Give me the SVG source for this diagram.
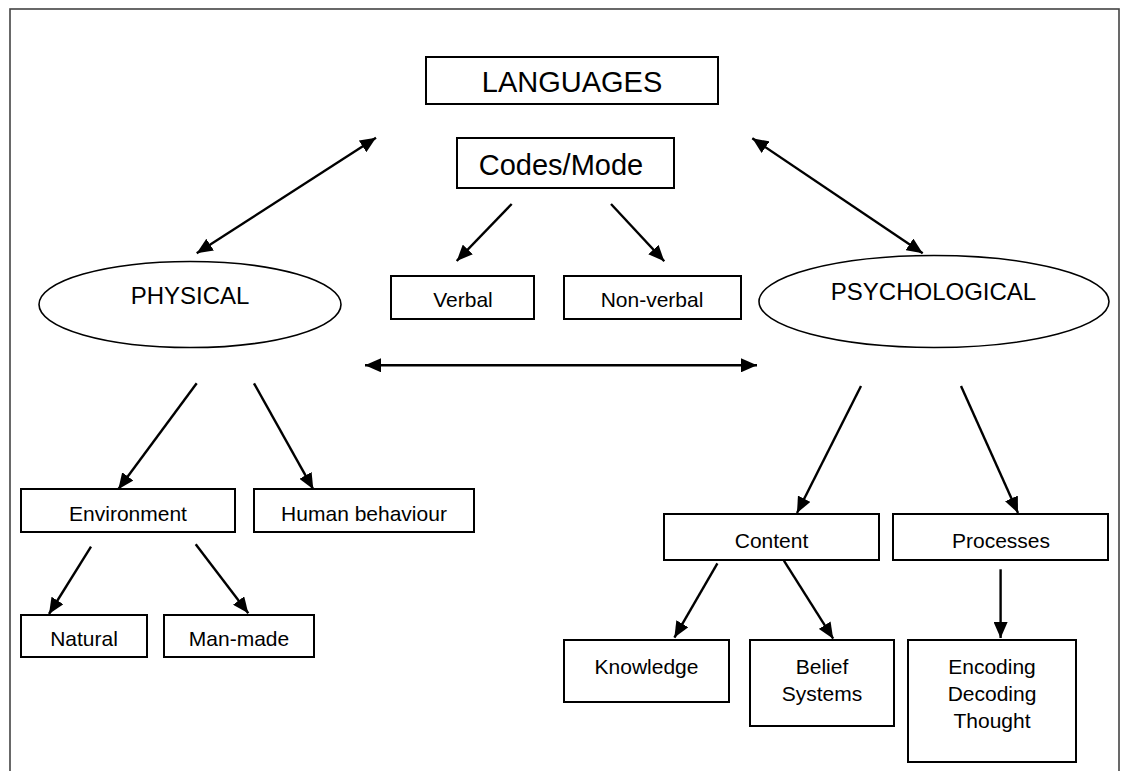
<svg xmlns="http://www.w3.org/2000/svg" width="1122" height="771" viewBox="0 0 1122 771">
<defs>
<marker id="ah" viewBox="0 0 16 14" refX="16" refY="7" markerWidth="16" markerHeight="14" markerUnits="userSpaceOnUse" orient="auto-start-reverse">
<path d="M0,0 L16,7 L0,14 z" fill="#000"/>
</marker>
<style>
.box{fill:#fff;stroke:#000;stroke-width:2}
.ell{fill:#fff;stroke:#000;stroke-width:1.6}
.t{font-family:"Liberation Sans",Arial,sans-serif;fill:#000;text-anchor:middle}
.s21{font-size:21px}
.s24{font-size:24px}
.s29{font-size:29px}
.c{stroke:#000;stroke-width:2.4;fill:none}
.one{marker-end:url(#ah)}
.two{marker-start:url(#ah);marker-end:url(#ah)}
</style>
</defs>
<rect x="0" y="0" width="1122" height="771" fill="#fff"/>
<rect x="10" y="9" width="1109" height="790" fill="none" stroke="#444" stroke-width="1.6"/>

<g id="languages"><rect class="box" x="426" y="57" width="292" height="47"/><text class="t s29" x="572" y="92">LANGUAGES</text></g>
<g id="codes"><rect class="box" x="457" y="138" width="217" height="50"/><text class="t s29" x="561" y="175">Codes/Mode</text></g>
<g id="verbal"><rect class="box" x="391" y="276" width="143" height="43"/><text class="t s21" x="463" y="307">Verbal</text></g>
<g id="nonverbal"><rect class="box" x="564" y="276" width="177" height="43"/><text class="t s21" x="652" y="307">Non-verbal</text></g>
<g id="physical"><ellipse class="ell" cx="190" cy="304.5" rx="151" ry="43"/><text class="t s24" x="190" y="304">PHYSICAL</text></g>
<g id="psychological"><ellipse class="ell" cx="934" cy="301.5" rx="175" ry="46"/><text class="t s24" x="933.5" y="300">PSYCHOLOGICAL</text></g>
<g id="environment"><rect class="box" x="21" y="489" width="214" height="43"/><text class="t s21" x="128" y="521">Environment</text></g>
<g id="human"><rect class="box" x="254" y="489" width="220" height="43"/><text class="t s21" x="364" y="521">Human behaviour</text></g>
<g id="natural"><rect class="box" x="21" y="615" width="126" height="42"/><text class="t s21" x="84" y="646">Natural</text></g>
<g id="manmade"><rect class="box" x="164" y="615" width="150" height="42"/><text class="t s21" x="239" y="646">Man-made</text></g>
<g id="content"><rect class="box" x="664" y="514" width="215" height="46"/><text class="t s21" x="771.5" y="548">Content</text></g>
<g id="processes"><rect class="box" x="893" y="514" width="215" height="46"/><text class="t s21" x="1001" y="548">Processes</text></g>
<g id="knowledge"><rect class="box" x="564" y="640" width="165" height="62"/><text class="t s21" x="646.5" y="674">Knowledge</text></g>
<g id="belief"><rect class="box" x="750" y="640" width="144" height="86"/><text class="t s21" x="822" y="674">Belief</text><text class="t s21" x="822" y="701">Systems</text></g>
<g id="encoding"><rect class="box" x="908" y="640" width="168" height="122"/><text class="t s21" x="992" y="674">Encoding</text><text class="t s21" x="992" y="701">Decoding</text><text class="t s21" x="992" y="728">Thought</text></g>

<g id="connectors">
<line class="c two" x1="196.7" y1="253.3" x2="376" y2="137.7"/>
<line class="c two" x1="752.3" y1="138.3" x2="922.7" y2="253.3"/>
<line class="c one" x1="511.7" y1="204" x2="456.7" y2="261"/>
<line class="c one" x1="611" y1="204" x2="664.3" y2="261.3"/>
<line class="c two" x1="365" y1="365.3" x2="757" y2="365.3"/>
<line class="c one" x1="196.7" y1="383.3" x2="118.3" y2="489.3"/>
<line class="c one" x1="254" y1="383.3" x2="313.3" y2="489.3"/>
<line class="c one" x1="91" y1="546.7" x2="49" y2="614"/>
<line class="c one" x1="195.7" y1="544.3" x2="248.3" y2="613.3"/>
<line class="c one" x1="861" y1="386" x2="797" y2="513"/>
<line class="c one" x1="961" y1="386" x2="1018" y2="513"/>
<line class="c one" x1="717.4" y1="563.3" x2="674.4" y2="637.6"/>
<line class="c one" x1="783.9" y1="560.7" x2="833.2" y2="638.7"/>
<line class="c one" x1="1000.6" y1="569.3" x2="1000.6" y2="638"/>
</g>
</svg>
